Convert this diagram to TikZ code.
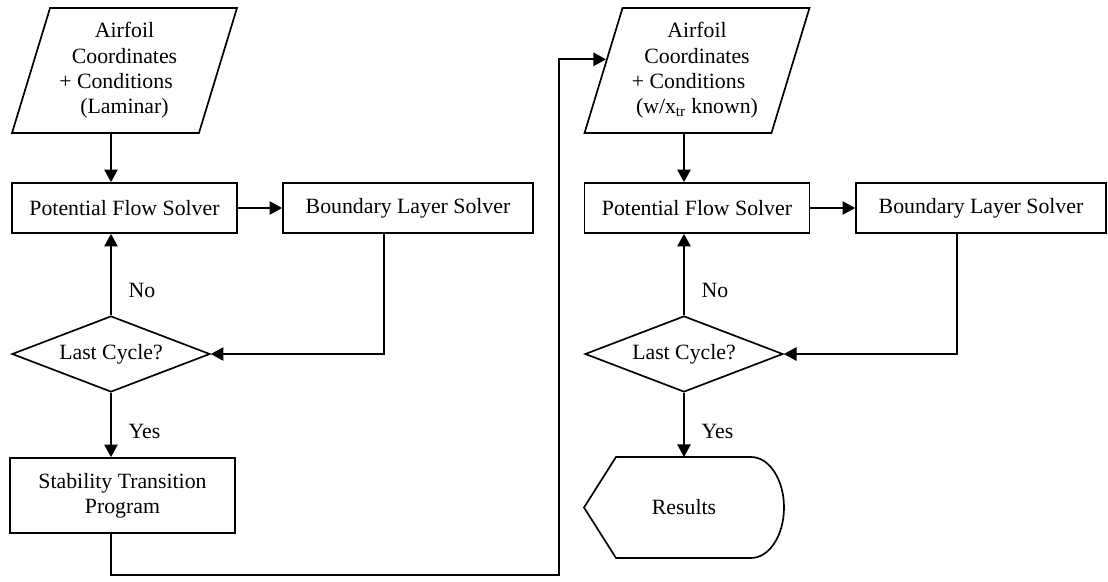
\documentclass[tikz,border=0pt]{standalone}
\usepackage{fontspec}
\setmainfont{Liberation Serif}
\usetikzlibrary{shapes.geometric,arrows.meta}

\begin{document}
\begin{tikzpicture}[
  every node/.style={font=\fontsize{15.5}{18}\selectfont},
  arr/.style={line width=1.2pt,-{Triangle[length=9pt,width=9.5pt]}},
  box/.style={draw,line width=1.2pt,rectangle,minimum height=1.25cm,inner sep=2pt,align=center},
  iobox/.style={draw,line width=1.2pt,trapezium,trapezium left angle=71,trapezium right angle=109,
    trapezium stretches=true,minimum width=5.625cm,minimum height=3.125cm,inner sep=1pt,align=center},
  decision/.style={draw,line width=1.2pt,diamond,aspect=2.6,minimum width=4.95cm,minimum height=1.9cm,inner sep=0pt}
]
\useasboundingbox (0,0) rectangle (27.7,-14.55);

\node (in1) at (3.1125,-1.7625) [iobox]{Airfoil\\Coordinates\\+ Conditions\hphantom{m}\\(Laminar)};
\node (pfs1) at (3.1125,-5.2) [box,minimum width=5.625cm]{Potential Flow Solver};
\node (bls1) at (10.2,-5.2) [box,minimum width=6.25cm]{Boundary Layer Solver};
\node (dec1) at (2.775,-8.85) [decision]{Last Cycle?};
\node (stp1) at (3.0625,-12.3875) [box,minimum width=5.625cm,minimum height=1.875cm]{Stability Transition\\Program};

\node (in2) at (17.425,-1.7625) [iobox]{Airfoil\\Coordinates\\+ Conditions\hphantom{m}\\(w/x\textsubscript{tr} known)};
\node (pfs2) at (17.425,-5.2) [box,minimum width=5.625cm]{Potential Flow Solver};
\node (bls2) at (24.525,-5.2) [box,minimum width=6.25cm]{Boundary Layer Solver};
\node (dec2) at (17.1,-8.85) [decision]{Last Cycle?};
\node (res) at (17.1,-12.6875) [minimum width=5cm,minimum height=2.525cm,outer sep=0pt]{Results};
\draw[line width=1.2pt] (res.west) -- ([xshift=0.8cm]res.north west) -- ([xshift=-0.825cm]res.north east)
  arc[start angle=90,end angle=-90,x radius=0.825cm,y radius=1.2625cm] -- ([xshift=0.8cm]res.south west) -- cycle;

\coordinate (lo) at (13.975,-14.375);

\draw[arr] (in1.south -| dec1) -- (pfs1.north -| dec1);
\draw[arr] (pfs1.east) -- (bls1.west);
\draw[arr] ([xshift=-0.6cm]bls1.south) |- (dec1.east);
\draw[arr] (dec1.north) -- (pfs1.south -| dec1) node[pos=0.3,right=0.3cm]{No};
\draw[arr] (dec1.south) -- (stp1.north -| dec1) node[pos=0.6,right=0.3cm]{Yes};
\draw[arr] (stp1.south -| dec1) |- (lo) |- (in2.173);

\draw[arr] (in2.south -| dec2) -- (pfs2.north -| dec2);
\draw[arr] (pfs2.east) -- (bls2.west);
\draw[arr] ([xshift=-0.6cm]bls2.south) |- (dec2.east);
\draw[arr] (dec2.north) -- (pfs2.south -| dec2) node[pos=0.3,right=0.3cm]{No};
\draw[arr] (dec2.south) -- (res.north) node[pos=0.6,right=0.3cm]{Yes};
\end{tikzpicture}
\end{document}
